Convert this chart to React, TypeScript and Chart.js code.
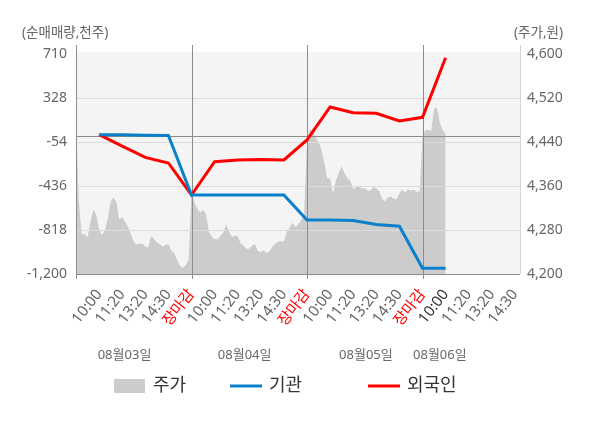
import { useEffect, useRef } from 'react';
import { Chart, registerables } from 'chart.js';

Chart.register(...registerables);

const FONT = "'Noto Sans', 'Noto Sans CJK KR', sans-serif";

// X axis: each trading day spans one unit; labelled ticks every 0.2 day
const tickLabels = [
  '', '10:00', '11:20', '13:20', '14:30', '장마감',
  '10:00', '11:20', '13:20', '14:30', '장마감',
  '10:00', '11:20', '13:20', '14:30', '장마감',
  '10:00', '11:20', '13:20', '14:30',
];
const tickStep = 0.2;
const xMax = 3.844;
const currentTickIndex = 16;

const dayLabels = ['08월03일', '08월04일', '08월05일', '08월06일'];
const dayLabelPositions = [0.42, 1.46, 2.51, 3.15];

// Net buying (천주) at tick indices 1..16
const instValues = [8, 8, 5, 3, -514, -514, -514, -514, -514, -731, -731, -735, -770, -785, -1150, -1150];
const foreignValues = [10, -89, -188, -236, -514, -225, -210, -205, -210, -36, 250, 200, 195, 128, 160, 678];

// Price (원), sampled evenly within each day (40 samples per full day)
const priceSamplesPerDay = 40;
const priceDay1 = [4477, 4330, 4272, 4273, 4267, 4294, 4317, 4308, 4281, 4271, 4279, 4300, 4332, 4339, 4331, 4299, 4303, 4295, 4286, 4273, 4258, 4253, 4255, 4255, 4250, 4248, 4269, 4264, 4257, 4254, 4250, 4253, 4254, 4243, 4238, 4226, 4215, 4211, 4216, 4227];
const priceDay2 = [4350, 4330, 4319, 4312, 4317, 4309, 4277, 4268, 4263, 4263, 4269, 4275, 4290, 4277, 4267, 4270, 4268, 4256, 4252, 4246, 4246, 4252, 4254, 4242, 4240, 4243, 4238, 4241, 4250, 4254, 4259, 4259, 4259, 4277, 4284, 4293, 4285, 4291, 4298, 4310];
const priceDay3 = [4440, 4463, 4459, 4448, 4440, 4426, 4402, 4374, 4374, 4346, 4370, 4384, 4396, 4383, 4374, 4369, 4354, 4358, 4358, 4356, 4356, 4352, 4352, 4358, 4356, 4351, 4337, 4332, 4339, 4341, 4337, 4336, 4347, 4353, 4348, 4354, 4352, 4353, 4349, 4350];
const priceDay4 = [4450, 4462, 4462, 4461, 4500, 4503, 4475, 4461, 4456];
const priceDays = [priceDay1, priceDay2, priceDay3, priceDay4];

const leftMin = -1200;
const leftMax = 710;
const leftStep = 382;
const rightMin = 4200;
const rightMax = 4600;
const rightStep = 80;

const COLORS = {
  price: '#cccccc',
  inst: '#0a80cc',
  foreign: '#ff0000',
  bg: '#f4f4f4',
  axis: '#8c8c8c',
  grid: '#dcdcdc',
  text: '#666666',
};

const decorPlugin = {
  id: 'decor',
  beforeDraw(chart: any) {
    const { ctx, chartArea: a } = chart;
    ctx.save();
    ctx.fillStyle = COLORS.bg;
    ctx.fillRect(a.left, a.top - 2, a.right - a.left, a.bottom - a.top + 2);
    ctx.restore();
  },
  afterDatasetDraw(chart: any, args: any) {
    if (args.index !== 0) return;
    const { ctx, chartArea: a } = chart;
    const y = chart.scales.y;
    const x = chart.scales.x;
    ctx.save();
    ctx.lineWidth = 1;
    const hline = (py: number, color: string) => {
      const p = Math.round(py) + 0.5;
      ctx.strokeStyle = color;
      ctx.beginPath();
      ctx.moveTo(a.left, p);
      ctx.lineTo(a.right, p);
      ctx.stroke();
    };
    const vline = (px: number, y0: number, y1: number, color: string) => {
      const p = Math.round(px) + 0.5;
      ctx.strokeStyle = color;
      ctx.beginPath();
      ctx.moveTo(p, y0);
      ctx.lineTo(p, y1);
      ctx.stroke();
    };
    y.ticks.forEach((t: any) => {
      if (t.value === leftMax || t.value === leftMin) return;
      hline(y.getPixelForValue(t.value), COLORS.grid);
    });
    hline(y.getPixelForValue(0), COLORS.axis);
    hline(y.getPixelForValue(leftMin), COLORS.axis);
    vline(a.right, a.top - 9, a.bottom, '#d4d4d4');
    vline(a.left, a.top - 9, a.bottom + 5, COLORS.axis);
    for (let d = 1; d < dayLabels.length; d++) {
      vline(x.getPixelForValue(d), a.top - 9, a.bottom + 5, COLORS.axis);
    }
    ctx.restore();
  },
  afterDraw(chart: any) {
    const { ctx } = chart;
    ctx.save();
    ctx.textBaseline = 'middle';
    ctx.fillStyle = COLORS.text;
    ctx.font = `13.5px ${FONT}`;
    ctx.textAlign = 'left';
    ctx.fillText('(순매매량,천주)', 22, 33);
    ctx.textAlign = 'right';
    ctx.fillText('(주가,원)', 563, 33);

    // legend
    const starts = [114, 230, 368];
    const cy = 386;
    ctx.font = `18px ${FONT}`;
    ctx.textAlign = 'left';
    chart.data.datasets.forEach((ds: any, i: number) => {
      const x0 = starts[i];
      if (ds.fill) {
        ctx.fillStyle = ds.backgroundColor;
        ctx.fillRect(x0, cy - 7, 31, 14);
      } else {
        ctx.strokeStyle = ds.borderColor;
        ctx.lineWidth = 3;
        ctx.beginPath();
        ctx.moveTo(x0, cy);
        ctx.lineTo(x0 + 32, cy);
        ctx.stroke();
      }
      ctx.fillStyle = '#333333';
      ctx.fillText(ds.label, x0 + 39, cy);
    });
    ctx.restore();
  },
};

export default function App() {
  const ref = useRef<HTMLCanvasElement | null>(null);

  useEffect(() => {
    if (!ref.current) return;
    Chart.defaults.font.family = FONT;

    const pricePoints: { x: number; y: number }[] = [];
    priceDays.forEach((arr, d) => {
      arr.forEach((v, i) => pricePoints.push({ x: d + i / priceSamplesPerDay, y: v }));
    });
    const instPoints = instValues.map((v, i) => ({ x: (i + 1) * tickStep, y: v }));
    const foreignPoints = foreignValues.map((v, i) => ({ x: (i + 1) * tickStep, y: v }));

    const chart = new Chart(ref.current, {
      type: 'line',
      data: {
        datasets: [
          {
            label: '주가',
            data: pricePoints,
            xAxisID: 'x',
            yAxisID: 'y1',
            fill: 'start',
            backgroundColor: COLORS.price,
            borderColor: COLORS.price,
            borderWidth: 0,
            pointRadius: 0,
            tension: 0,
            order: 3,
          },
          {
            label: '기관',
            data: instPoints,
            xAxisID: 'x',
            yAxisID: 'y',
            fill: false,
            borderColor: COLORS.inst,
            backgroundColor: COLORS.inst,
            borderWidth: 3,
            pointRadius: 0,
            tension: 0,
            order: 1,
          },
          {
            label: '외국인',
            data: foreignPoints,
            xAxisID: 'x',
            yAxisID: 'y',
            fill: false,
            borderColor: COLORS.foreign,
            backgroundColor: COLORS.foreign,
            borderWidth: 3,
            pointRadius: 0,
            tension: 0,
            order: 2,
          },
        ],
      },
      options: {
        animation: false,
        responsive: false,
        devicePixelRatio: 1,
        layout: { padding: { top: 54, bottom: 50, left: 0, right: 0 } },
        plugins: { legend: { display: false }, tooltip: { enabled: false } },
        scales: {
          x: {
            type: 'linear',
            position: 'bottom',
            min: 0,
            max: xMax,
            weight: 0,
            afterBuildTicks: (s: any) => {
              s.ticks = tickLabels.map((_, i) => ({ value: i * tickStep }));
            },
            afterFit: (s: any) => {
              s.height = 62;
            },
            ticks: {
              autoSkip: false,
              maxRotation: 52,
              minRotation: 52,
              padding: 12,
              font: { size: 15, family: FONT },
              color: (c: any) =>
                tickLabels[c.index] === '장마감' ? COLORS.foreign : c.index === currentTickIndex ? '#333333' : COLORS.text,
              callback: (_v: any, i: number) => tickLabels[i],
            },
            grid: { display: false, drawTicks: false },
            border: { display: false },
          },
          x2: {
            type: 'linear',
            position: 'bottom',
            min: 0,
            max: xMax,
            weight: 1,
            afterBuildTicks: (s: any) => {
              s.ticks = dayLabelPositions.map((v) => ({ value: v }));
            },
            afterFit: (s: any) => {
              s.height = 42;
            },
            ticks: {
              autoSkip: false,
              maxRotation: 0,
              minRotation: 0,
              padding: 11,
              font: { size: 13, family: FONT },
              color: COLORS.text,
              callback: (_v: any, i: number) => dayLabels[i],
            },
            grid: { display: false, drawTicks: false },
            border: { display: false },
          },
          y: {
            type: 'linear',
            position: 'left',
            min: leftMin,
            max: leftMax,
            afterFit: (s: any) => {
              s.width = 76;
            },
            ticks: {
              stepSize: leftStep,
              padding: 9,
              color: COLORS.text,
              font: { size: 14, family: FONT },
              callback: (v: any) => Number(v).toLocaleString('en-US'),
            },
            grid: { display: false, drawTicks: false },
            border: { display: false },
          },
          y1: {
            type: 'linear',
            position: 'right',
            min: rightMin,
            max: rightMax,
            afterFit: (s: any) => {
              s.width = 80;
            },
            ticks: {
              stepSize: rightStep,
              padding: 7,
              color: COLORS.text,
              font: { size: 14, family: FONT },
              callback: (v: any) => Number(v).toLocaleString('en-US'),
            },
            grid: { display: false, drawTicks: false },
            border: { display: false },
          },
        },
      },
      plugins: [decorPlugin],
    } as any);

    return () => chart.destroy();
  }, []);

  return (
    <div style={{ position: 'fixed', left: 0, top: 0, width: 600, height: 428, background: '#fff' }}>
      <canvas ref={ref} width={600} height={428} style={{ display: 'block' }} />
    </div>
  );
}
